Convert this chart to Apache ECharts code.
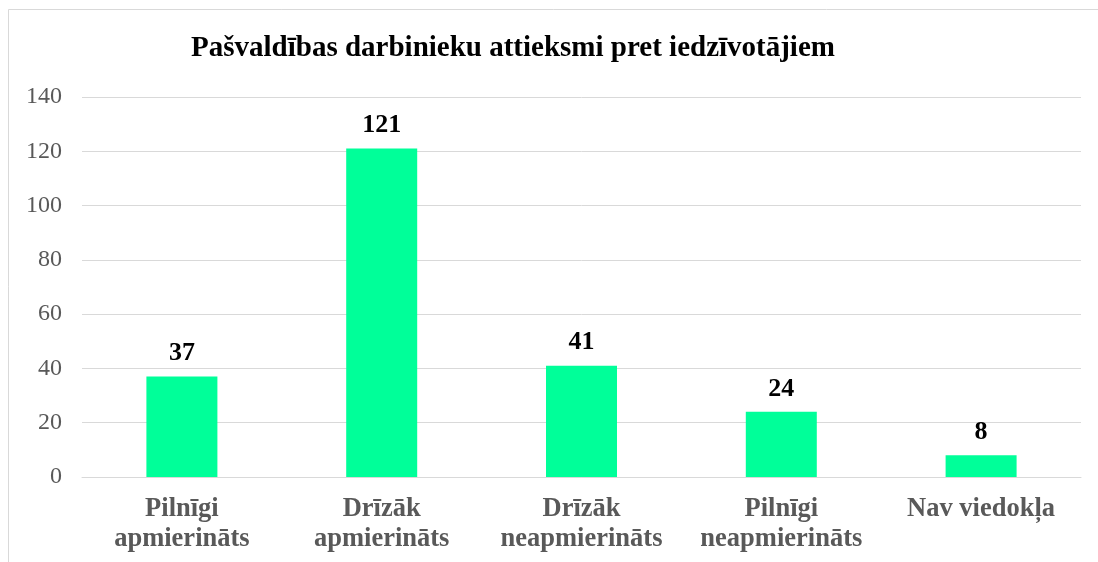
<!DOCTYPE html>
<html>
<head>
<meta charset="utf-8">
<script src="https://cdn.jsdelivr.net/npm/echarts@6/dist/echarts.min.js"></script>
<style>
  html, body { margin: 0; padding: 0; background: #fff; }
  #chart { width: 1098px; height: 562px; }
</style>
</head>
<body>
<div id="chart"></div>
<script>
// Survey answers: how municipal employees treat residents
const titleText = 'Pašvaldības darbinieku attieksmi pret iedzīvotājiem';
const categories = [
  'Pilnīgi\napmierināts',
  'Drīzāk\napmierināts',
  'Drīzāk\nneapmierināts',
  'Pilnīgi\nneapmierināts',
  'Nav viedokļa'
];
const counts = [37, 121, 41, 24, 8];
const yTicks = [0, 20, 40, 60, 80, 100, 120, 140];

const serif = '"Liberation Serif", "Times New Roman", serif';
const chart = echarts.init(document.getElementById('chart'), null, { renderer: 'canvas' });

chart.setOption({
  backgroundColor: '#ffffff',
  animation: false,
  graphic: [{
    type: 'rect',
    shape: { x: 8.5, y: 9.5, width: 1200, height: 700 },
    style: { fill: 'none', stroke: '#d9d9d9', lineWidth: 1 },
    silent: true
  }],
  title: {
    text: titleText,
    left: 508,
    top: 29,
    textAlign: 'center',
    textStyle: { fontFamily: serif, fontWeight: 'bold', fontSize: 29, color: '#000' }
  },
  grid: { left: 82, right: 17, top: 97, bottom: 85, containLabel: false },
  xAxis: {
    type: 'category',
    data: categories,
    axisLine: { show: true, lineStyle: { color: '#d9d9d9', width: 1 } },
    axisTick: { show: false },
    axisLabel: {
      interval: 0,
      margin: 17,
      fontFamily: serif,
      fontWeight: 'bold',
      fontSize: 26.5,
      lineHeight: 30,
      color: '#595959'
    }
  },
  yAxis: {
    type: 'value',
    min: yTicks[0],
    max: yTicks[yTicks.length - 1],
    interval: 20,
    axisLine: { show: false },
    axisTick: { show: false },
    splitLine: { lineStyle: { color: '#d9d9d9', width: 1 } },
    axisLabel: {
      margin: 20,
      fontFamily: serif,
      fontSize: 24,
      color: '#595959'
    }
  },
  series: [{
    type: 'bar',
    data: counts,
    barWidth: 71,
    itemStyle: { color: '#00ff99' },
    label: {
      show: true,
      position: 'top',
      distance: 10,
      fontFamily: serif,
      fontWeight: 'bold',
      fontSize: 26,
      color: '#000'
    }
  }]
});
</script>
</body>
</html>
